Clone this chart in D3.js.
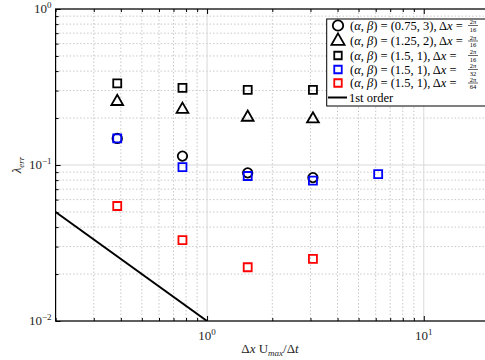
<!DOCTYPE html>
<html>
<head>
<meta charset="utf-8">
<script src="https://cdn.jsdelivr.net/npm/d3@7"></script>
<style>
  body { margin: 0; background: #fff; }
  svg { display: block; font-family: "Liberation Serif", "DejaVu Serif", serif; }
</style>
</head>
<body>
<svg id="chart" width="485" height="360"></svg>
<script>
// values
var xVals = [0.385, 0.77, 1.54, 3.08, 6.16];
var circleVals = [0.148, 0.114, 0.089, 0.083];
var triangleVals = [0.255, 0.227, 0.202, 0.197];
var blackSqVals = [0.334, 0.312, 0.303, 0.303];
var blueSqVals = [0.148, 0.097, 0.085, 0.0795, 0.0875];
var redSqVals = [0.0546, 0.033, 0.0221, 0.025];
var orderX = [0.2, 1];
var orderY = [0.05, 0.01];
var legendLabels = ['(0.75, 3)', '(1.25, 2)', '(1.5, 1)', '(1.5, 1)', '(1.5, 1)'];
var legendDen = ['16', '16', '16', '32', '64'];

var svg = d3.select('#chart');
var pL = 55.6, pR = 489, pT = 9, pB = 321;

var x = d3.scaleLog().domain([0.2, 20]).range([pL, pR]);
var y = d3.scaleLog().domain([0.01, 1]).range([pB, pT]);

var majorX = [1, 10];
var minorX = [];
[0.1, 1, 10].forEach(function (d) {
  for (var k = 2; k <= 9; k++) {
    var v = d * k;
    if (v >= 0.2 && v <= 20) minorX.push(v);
  }
});
minorX.push(20);
var majorY = [0.01, 0.1, 1];
var minorY = [];
[0.01, 0.1].forEach(function (d) {
  for (var k = 2; k <= 9; k++) minorY.push(d * k);
});

var grid = svg.append('g');
grid.selectAll('.mx').data(minorX).enter().append('line')
  .attr('x1', d => x(d)).attr('x2', d => x(d))
  .attr('y1', pT).attr('y2', pB)
  .attr('stroke', '#c8c8c8').attr('stroke-dasharray', '1.5,2');
grid.selectAll('.my').data(minorY).enter().append('line')
  .attr('y1', d => y(d)).attr('y2', d => y(d))
  .attr('x1', pL).attr('x2', pR)
  .attr('stroke', '#c8c8c8').attr('stroke-dasharray', '1.5,2');
grid.selectAll('.Mx').data(majorX).enter().append('line')
  .attr('x1', d => x(d)).attr('x2', d => x(d))
  .attr('y1', pT).attr('y2', pB)
  .attr('stroke', '#d9d9d9');
grid.selectAll('.My').data(majorY).enter().append('line')
  .attr('y1', d => y(d)).attr('y2', d => y(d))
  .attr('x1', pL).attr('x2', pR)
  .attr('stroke', '#d9d9d9');

// axes with inward ticks
function styleAxis(g) {
  g.select('.domain').remove();
  g.selectAll('line').attr('stroke', '#000');
}
svg.append('g').attr('transform', 'translate(0,' + pB + ')')
  .call(d3.axisBottom(x).tickValues(majorX).tickSize(-5).tickFormat(''))
  .call(styleAxis);
svg.append('g').attr('transform', 'translate(0,' + pB + ')')
  .call(d3.axisBottom(x).tickValues(minorX).tickSize(-3).tickFormat(''))
  .call(styleAxis);
svg.append('g').attr('transform', 'translate(0,' + pT + ')')
  .call(d3.axisTop(x).tickValues(majorX).tickSize(-5).tickFormat(''))
  .call(styleAxis);
svg.append('g').attr('transform', 'translate(0,' + pT + ')')
  .call(d3.axisTop(x).tickValues(minorX).tickSize(-3).tickFormat(''))
  .call(styleAxis);
svg.append('g').attr('transform', 'translate(' + pL + ',0)')
  .call(d3.axisLeft(y).tickValues(majorY).tickSize(-5).tickFormat(''))
  .call(styleAxis);
svg.append('g').attr('transform', 'translate(' + pL + ',0)')
  .call(d3.axisLeft(y).tickValues(minorY).tickSize(-3).tickFormat(''))
  .call(styleAxis);

svg.append('rect').attr('x', pL).attr('y', pT)
  .attr('width', pR - pL).attr('height', pB - pT)
  .attr('fill', 'none').attr('stroke', '#000').attr('stroke-width', 1.2);

// tick labels
var xl = svg.selectAll('.xl').data(majorX).enter().append('text')
  .attr('x', d => x(d)).attr('y', pB + 19)
  .attr('text-anchor', 'middle').attr('font-size', 13).attr('fill', '#262626');
xl.append('tspan').text('10');
xl.append('tspan').attr('dy', -5).attr('font-size', 9).text(d => Math.round(Math.log10(d)));

var yl = svg.selectAll('.yl').data(majorY).enter().append('text')
  .attr('x', pL - 4).attr('y', d => y(d) + 4)
  .attr('text-anchor', 'end').attr('font-size', 13).attr('fill', '#262626');
yl.append('tspan').text('10');
yl.append('tspan').attr('dy', -5).attr('font-size', 9)
  .text(d => { var e = Math.round(Math.log10(d)); return e < 0 ? '\u2212' + (-e) : e; });

// axis titles
var xt = svg.append('text').attr('x', 270).attr('y', 353)
  .attr('text-anchor', 'middle').attr('font-size', 13).attr('fill', '#262626');
xt.append('tspan').text('\u0394');
xt.append('tspan').attr('font-style', 'italic').text('x');
xt.append('tspan').text(' U');
xt.append('tspan').attr('font-style', 'italic').attr('font-size', 9).attr('dy', 3).text('max');
xt.append('tspan').attr('dy', -3).text('/\u0394');
xt.append('tspan').attr('font-style', 'italic').text('t');

var yt = svg.append('text').attr('transform', 'translate(21,165) rotate(-90)')
  .attr('text-anchor', 'middle').attr('font-size', 13).attr('fill', '#262626');
yt.append('tspan').attr('font-style', 'italic').text('\u03bb');
yt.append('tspan').attr('font-style', 'italic').attr('font-size', 9).attr('dy', 3).text('err');

// plot marks
var plot = svg.append('g');
plot.append('defs').append('clipPath').attr('id', 'clip')
  .append('rect').attr('x', pL).attr('y', pT).attr('width', pR - pL).attr('height', pB - pT);

var line = d3.line().x((d, i) => x(orderX[i])).y(d => y(d));
plot.append('path').datum(orderY).attr('d', line)
  .attr('clip-path', 'url(#clip)')
  .attr('fill', 'none').attr('stroke', '#000').attr('stroke-width', 2);

var sym = {
  circle: d3.symbol().type(d3.symbolCircle).size(70),
  triangle: d3.symbol().type(d3.symbolTriangle).size(60),
  square: d3.symbol().type(d3.symbolSquare).size(64)
};
function drawSeries(vals, shape, color) {
  plot.append('g').selectAll('path').data(vals).enter().append('path')
    .attr('transform', (d, i) => 'translate(' + x(xVals[i]) + ',' + y(d) + ')')
    .attr('d', sym[shape]())
    .attr('fill', 'none').attr('stroke', color).attr('stroke-width', 1.8);
}
drawSeries(circleVals, 'circle', '#000');
drawSeries(triangleVals, 'triangle', '#000');
drawSeries(blackSqVals, 'square', '#000');
drawSeries(blueSqVals, 'square', '#0000ff');
drawSeries(redSqVals, 'square', '#ff0000');

// legend
var lg = svg.append('g');
lg.append('rect').attr('x', 326.7).attr('y', 19).attr('width', 170).attr('height', 87)
  .attr('fill', '#fff').attr('stroke', '#000').attr('stroke-width', 1);
var rowsY = [25.5, 41, 55.5, 69.5, 83, 97.5];
var legShapes = [['circle', '#000'], ['triangle', '#000'], ['square', '#000'], ['square', '#0000ff'], ['square', '#ff0000']];
legShapes.forEach(function (s, i) {
  var yy = rowsY[i];
  var size = s[0] === 'square' ? 56 : (s[0] === 'triangle' ? 75 : 85);
  lg.append('path').attr('transform', 'translate(338,' + yy + ')')
    .attr('d', d3.symbol().type(s[0] === 'circle' ? d3.symbolCircle : s[0] === 'triangle' ? d3.symbolTriangle : d3.symbolSquare).size(size)())
    .attr('fill', 'none').attr('stroke', s[1]).attr('stroke-width', 1.8);
  var t = lg.append('text').attr('x', 350).attr('y', yy + 4).attr('font-size', 12.5).attr('fill', '#000');
  t.append('tspan').text('(');
  t.append('tspan').attr('font-style', 'italic').text('\u03b1');
  t.append('tspan').text(', ');
  t.append('tspan').attr('font-style', 'italic').text('\u03b2');
  t.append('tspan').text(') = ' + legendLabels[i] + ', \u0394');
  t.append('tspan').attr('font-style', 'italic').text('x');
  t.append('tspan').text(' =');
  var fx = 473;
  lg.append('text').attr('x', fx).attr('y', yy - 1.2).attr('text-anchor', 'middle')
    .attr('font-size', 6.5).text('2\u03c0');
  lg.append('line').attr('x1', fx - 5).attr('x2', fx + 5).attr('y1', yy).attr('y2', yy)
    .attr('stroke', '#000').attr('stroke-width', 0.6);
  lg.append('text').attr('x', fx).attr('y', yy + 6).attr('text-anchor', 'middle')
    .attr('font-size', 6.5).text(legendDen[i]);
});
lg.append('line').attr('x1', 328).attr('x2', 347).attr('y1', rowsY[5]).attr('y2', rowsY[5])
  .attr('stroke', '#000').attr('stroke-width', 2);
lg.append('text').attr('x', 349).attr('y', rowsY[5] + 4).attr('font-size', 12.5).text('1st order');
</script>
</body>
</html>
